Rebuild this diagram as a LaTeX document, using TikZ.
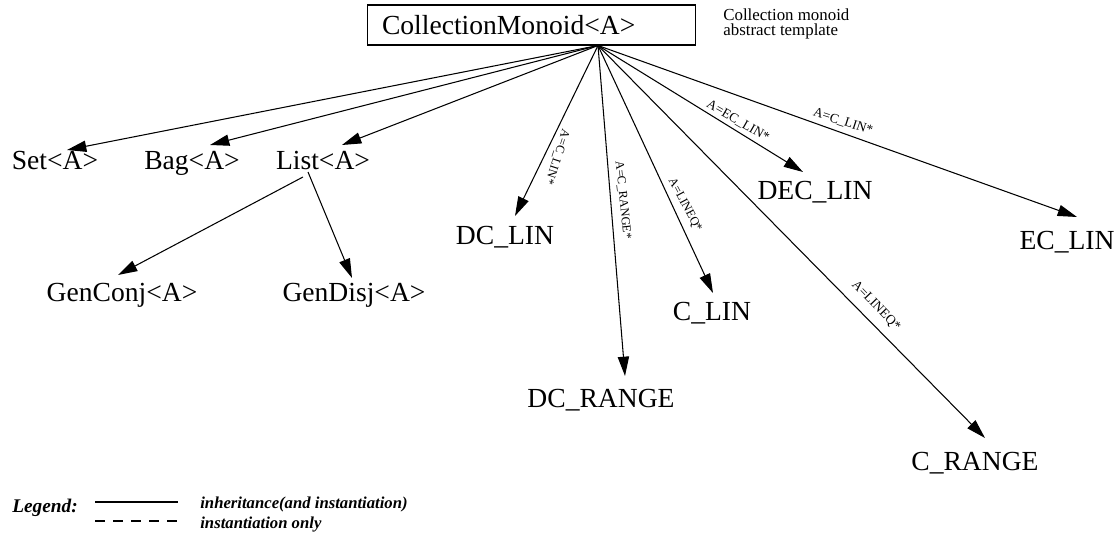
\documentclass[tikz,border=0pt]{standalone}
\usepackage{fontspec}
\setmainfont{Liberation Serif}
\usetikzlibrary{calc,arrows.meta}

\begin{document}
\begin{tikzpicture}[x=0.02cm,y=-0.02cm,
  cls/.style={font=\fontsize{15.7}{18}\selectfont, anchor=base, inner sep=1pt},
  lbl/.style={font=\fontsize{7}{8}\selectfont, inner sep=0pt},
  inh/.style={line width=0.6pt, -{Triangle[length=11pt,width=6.4pt]}},
  leg/.style={font=\fontsize{9.5}{11}\bfseries\itshape\selectfont, anchor=west, inner sep=0pt}]
\useasboundingbox (0,0) rectangle (1120,537);

\node[draw, line width=0.6pt, minimum height=0.8cm, text width=5.98cm, inner xsep=0.3cm, align=left,
  font=\fontsize{15.7}{18}\selectfont] at (531.5,25) (monoid) {CollectionMonoid<A>};
\node[anchor=north west, inner sep=0pt, align=left, font=\fontsize{9.6}{8.6}\selectfont] at (723,8) (note)
  {Collection monoid\\abstract template};

\node[cls] at (55,170) (set) {Set<A>};
\node[cls] at (192,170) (bag) {Bag<A>};
\node[cls] at (323,170) (list) {List<A>};
\node[cls] at (122,301) (genconj) {GenConj<A>};
\node[cls] at (354,301) (gendisj) {GenDisj<A>};
\node[cls] at (505,244) (dclin) {DC\_LIN};
\node[cls] at (601,407) (dcrange) {DC\_RANGE};
\node[cls] at (712,320) (clin) {C\_LIN};
\node[cls] at (815,199) (declin) {DEC\_LIN};
\node[cls] at (1067,250) (eclin) {EC\_LIN};
\node[cls] at (975,470) (crange) {C\_RANGE};

\coordinate (hub) at ($(monoid.south)+(66.5,0)$);
\draw[inh] (hub) -- ($(set.base)+(12,-20)$);
\draw[inh] (hub) -- ($(bag.base)+(18,-25)$);
\draw[inh] (hub) -- ($(list.base)+(19,-25)$);
\draw[inh] ($(list.base)+(-20,7)$) -- ($(genconj.base)+(-4,-26)$);
\draw[inh] ($(list.base)+(-15,2)$) -- ($(gendisj.base)+(-2,-23)$);
\draw[inh] (hub) -- ($(dclin.base)+(10,-28)$);
\draw[inh] (hub) -- ($(dcrange.base)+(24,-31)$);
\draw[inh] (hub) -- ($(clin.base)+(1,-27)$);
\draw[inh] (hub) -- ($(declin.base)+(-12,-27)$);
\draw[inh] (hub) -- ($(eclin.base)+(10,-33)$);
\draw[inh] (hub) -- ($(crange.base)+(10,-32)$);

\node[lbl, rotate=-108] at (557,157) (l1) {A=C\_LIN*};
\node[lbl, rotate=-84] at (623,200) (l2) {A=C\_RANGE*};
\node[lbl, rotate=-62] at (685,205) (l3) {A=LINEQ*};
\node[lbl, rotate=-30, font=\fontsize{7.6}{8}\selectfont] at (738,121) (l4) {A=EC\_LIN*};
\node[lbl, rotate=-18, font=\fontsize{7.6}{8}\selectfont] at (843,122) (l5) {A=C\_LIN*};
\node[lbl, rotate=-46, font=\fontsize{7.6}{8}\selectfont] at (876,306) (l6) {A=LINEQ*};

% legend
\node[leg, font=\fontsize{11}{13}\bfseries\itshape\selectfont] at (12,508) (legend) {Legend:};
\coordinate (s1) at (95,502);
\coordinate (s2) at (178,502);
\coordinate (d1) at (95,521);
\coordinate (d2) at (178,521);
\draw[line width=0.6pt] (s1) -- (s2);
\draw[line width=0.6pt, dash pattern=on 5.7pt off 4.6pt] (d1) -- (d2);
\node[leg] at (200,504) (inhtext) {inheritance(and instantiation)};
\node[leg] at (200,525) (insttext) {instantiation only};
\end{tikzpicture}
\end{document}
